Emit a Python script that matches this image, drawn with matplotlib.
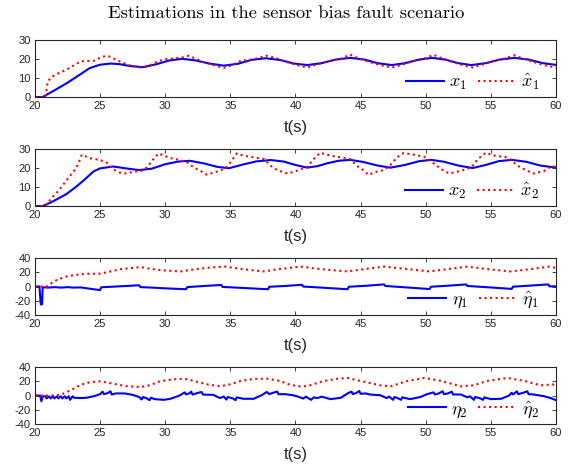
"""
Estimations in the sensor bias fault scenario.
Four stacked panels: states x1, x2 and biases eta1, eta2 with their estimates.
"""

import matplotlib
matplotlib.use("Agg")
import matplotlib.pyplot as plt

plt.rcParams["mathtext.fontset"] = "cm"
plt.rcParams["font.family"] = ["Liberation Sans", "DejaVu Sans"]
plt.rcParams["axes.unicode_minus"] = False

# --- x1 and its estimate ---
t_x1 = [20, 20.6, 21.5, 22.5, 23.5, 24.2, 25, 25.8, 26.5, 27.3, 28.3, 29.3, 30.3, 31.3,
        32.3, 33.4, 34.5, 35.6, 36.6, 37.7, 38.8, 39.9, 40.9, 42, 43.1, 44.2, 45.3, 46.3,
        47.4, 48.4, 49.5, 50.5, 51.5, 52.5, 53.5, 54.6, 55.7, 56.8, 57.9, 59, 60]
x1 = [0, 0, 3.5, 7.5, 12, 15.2, 17, 17.6, 17.3, 16.3, 15.7, 17.2, 19.2, 20.1,
      19.3, 17.6, 16.5, 17.5, 19.5, 20.4, 19.5, 17.6, 16.8, 17.8, 19.7, 20.6, 19.7, 17.8,
      16.8, 17.8, 19.7, 20.6, 19.7, 17.8, 16.8, 17.8, 19.7, 20.6, 19.7, 17.8, 16.9]

t_x1_hat = [20, 20.8, 21.0, 21.4, 21.9, 22.4, 22.9, 23.5, 24, 24.5, 25, 25.4, 25.8, 26.2,
            26.7, 27.2, 27.8, 28.3, 28.8, 29.4, 29.9, 30.6, 31.3, 31.8, 32.3, 32.9, 33.7,
            34.5, 35, 35.8, 36.8, 37.8, 38.6, 39.4, 40.3, 40.9, 41.5, 42.5, 43.5, 44.2,
            44.8, 45.6, 46.5, 47.4, 48, 49, 49.9, 50.6, 51.2, 52, 52.9, 53.6, 54.3, 55.2,
            56.1, 56.8, 57.4, 58.2, 59.1, 60]
x1_hat = [0, 0, 8.5, 11, 12.8, 14.3, 16.3, 18.7, 19, 19, 20.6, 21.6, 21.2, 19.6,
          18.2, 16.8, 15.9, 15.3, 16.6, 18.6, 19.8, 20.3, 20.8, 21.7, 20.3, 18.5, 16.8,
          15.3, 16.4, 19.0, 19.9, 21.7, 20.3, 18.2, 16.5, 15.5, 16.8, 18.8, 20.2, 22.3,
          20.4, 18.6, 16.8, 15.5, 16.6, 18.8, 20.2, 22.2, 20.5, 18.5, 16.6, 15.5, 16.9, 19,
          20.3, 22, 20.4, 18.6, 16.8, 15.4]

# --- x2 and its estimate ---
t_x2 = [20, 20.6, 21.2, 22.4, 23.1, 23.7, 24.5, 25, 26, 27, 28, 29, 30, 31, 31.9, 33, 34,
        34.9, 36, 37, 38.1, 39.1, 40, 40.9, 41.7, 42.5, 43.3, 44.2, 45.2, 46.3, 47.3,
        48.4, 49.5, 50.4, 51.4, 52.5, 53.6, 54.6, 55.6, 56.6, 57.7, 58.8, 60]
x2 = [0, 0, 1.8, 6.2, 9.8, 13.2, 18.2, 19.8, 20.8, 19.8, 18.9, 19.7, 22.0, 23.4, 23.8,
      22.4, 20.6, 19.9, 21.9, 23.5, 24.2, 23.4, 21.6, 20.2, 21, 22.6, 23.8, 24.3, 23.2,
      21.3, 20.2, 21.6, 23.6, 24.3, 23.3, 21.3, 20.0, 21.6, 23.6, 24.3, 23.3, 21.3, 20.2]

t_x2_hat = [20, 20.8, 21.3, 21.8, 22.2, 22.6, 23, 23.3, 23.6, 24.2, 25, 25.5, 26, 26.5,
            27.05, 27.6, 28.1, 28.6, 29.1, 29.5, 29.9, 30.4, 31.15, 31.7, 32.2, 32.7, 33.2,
            33.7, 34.2, 34.7, 35.1, 35.5, 36, 36.8, 37.6, 38.1, 38.6, 39.4, 40.1, 40.9,
            41.4, 41.9, 42.7, 43.5, 44.2, 44.7, 45.3, 45.6, 46.3, 46.8, 47.3, 47.8, 48.3,
            49.1, 49.9, 50.7, 51.2, 51.8, 52.7, 53.5, 54, 54.6, 55.3, 56.3, 57.05, 57.8,
            58.3, 59.1, 59.7, 60]
x2_hat = [0, 0, 4.4, 7.9, 11.5, 15, 18.5, 21.7, 27, 25.2, 24.2, 22.9, 19.4, 17.6,
          17.1, 18.2, 18.2, 20.3, 24.7, 27.7, 26.5, 25.2, 24.2, 22.9, 20.3, 18.5, 16.5,
          17.6, 18.5, 20.3, 23.8, 27.7, 26.5, 25.6, 24.7, 21.2, 18.9, 17.1, 18.5, 20.6,
          24.7, 28, 26.5, 25.6, 24.7, 21.2, 18.5, 16.4, 18.2, 18.9, 21.7, 25.6, 27.9,
          27, 25.9, 22, 19.4, 17.1, 18.5, 20.3, 24.7, 28, 26.5, 25.6, 21.2, 18.5,
          17.1, 18.5, 21.2, 20.3]

# --- eta1 and its estimate ---
t_eta1 = [20, 20.35, 20.45, 20.55, 20.6, 21, 21.5, 22, 22.5, 23, 23.5, 24, 25, 25.1, 26,
          27, 28, 28.1, 29, 30, 31.6, 31.7, 33, 34.3, 34.4, 36, 37.9, 38, 39.2, 40.5,
          40.6, 42, 44, 44.1, 45.5, 46.8, 46.9, 48.5, 50.3, 50.4, 51.8, 53.1, 53.2, 55,
          56.6, 56.7, 58, 59.4, 59.5, 60]
eta1 = [0, 0, -25, -25, -1, -1.5, -0.8, -1.5, -0.8, -1.5, -1.2, -2.5, -5, -1, -0.2,
        0.8, 1.8, -0.8, -1.5, -2.5, -3.8, -0.8, 0.8, 2.2, -0.5, -2, -3.8, -0.3, 0.8, 2.5,
        0, -1.5, -3.8, -0.3, 1.2, 3, 0.8, -1.2, -3.5, -0.3, 1.3, 3, 0.8, -1.3,
        -3.3, -0.2, 1.3, 3, 0.3, 0.3]

t_eta1_hat = [20, 20.9, 21.2, 21.7, 22.4, 23.2, 24, 25, 25.8, 26.6, 27.4, 28.1, 28.8,
              29.9, 31.2, 32.2, 33.5, 34.6, 35.8, 36.8, 37.6, 38.6, 39.4, 40.4, 41.9, 44,
              45.3, 46.8, 48.6, 50.3, 51.7, 53.2, 54.7, 56.5, 58.1, 59.5, 60]
eta1_hat = [0, 0, 4, 9.4, 14, 16.5, 17.9, 18, 21.2, 24.5, 25.9, 27.3, 25,
            22.6, 21.2, 24, 26.8, 28, 24.8, 22.6, 21.2, 24.2, 25.8, 28, 24.5, 21.2,
            24.5, 28, 24.5, 21.2, 24.5, 28, 24.5, 21.2, 24.5, 28, 26]

# --- eta2 and its estimate ---
t_eta2 = [20, 20.4, 20.5, 20.6, 20.8, 20.9, 21.1, 21.2, 21.4, 21.5, 21.7, 21.8, 22.0,
          22.1, 22.3, 22.4, 22.6, 22.7, 22.9, 23.0, 23.5, 24, 24.6, 25.0, 25.2, 25.3,
          25.6, 25.8, 25.9, 26.2, 26.9, 27.5, 28, 28.2, 28.3, 28.6, 28.8, 28.9, 29.2,
          29.9, 30.4, 31.1, 31.5, 31.6, 31.9, 32.0, 32.1, 32.6, 32.8, 32.9, 33.7, 34.2,
          34.5, 34.7, 34.8, 35.2, 35.4, 35.5, 36, 36.8, 37.4, 37.8, 38.0, 38.2, 38.6,
          38.7, 39.2, 39.8, 40.1, 40.6, 40.8, 41.2, 41.4, 41.7, 42, 42.7, 43.5, 44, 44.3,
          44.4, 44.7, 44.9, 45, 45.4, 45.7, 46.5, 47, 47.2, 47.5, 47.6, 47.9, 48.1, 48.2,
          48.8, 49.6, 50.1, 50.6, 50.7, 51, 51.3, 51.4, 51.7, 52, 52.1, 52.7, 53.2, 53.4,
          53.7, 53.8, 54.2, 54.4, 54.5, 55, 55.8, 56.4, 56.6, 56.7, 57, 57.1, 57.5,
          57.8, 57.9, 58.3, 59.1, 59.6, 60]
eta2 = [0, 0, -8, -1, -1, -4, -1, -4, -1, -4, -1, -4, -1,
        -4, -1, -4, -1, -6, -1, -3, -3.5, -3, -0.5, 2, 5.5, 2,
        3.5, 6, 1.5, 3, 3, 1, -2, -5.5, -2, -4, -6.5, -3, -5,
        -6, -4.5, 0, 4.5, 1.5, 3.5, 5.5, 1.5, 4.2, 5, 1.4, 1, -3.5,
        -1.4, -5.6, -2, -4, -6.5, -2.5, -4.5, -4.5, 0.5, 5, 2, 3.5, 5.6,
        1.9, 2, 0.5, -0.9, -4.2, -1.5, -6, -2.5, -3.5, -1.5, -5, -3, 3, 5.5,
        2, 4, 6.5, 2.5, 3, 1.5, 0.5, -3.5, -1.5, -6, -2, -4, -6, -2.5,
        -5, -2, 2, 4.5, 1.5, 3, 6, 2, 3, 5.5, 1.5, 1.5, -2.5, -1,
        -6, -2, -4, -6, -2.5, -5, -4.5, 0, 4, 1.5, 6, 2, 4,
        6, 2, 1.5, -1, -3.5, -6.5]

t_eta2_hat = [20, 21, 21.7, 22.2, 23, 23.5, 24.2, 25, 26, 27, 28.1, 28.8, 29.6, 30.6,
              31.5, 32.2, 33.2, 34.2, 35, 35.8, 36.8, 37.8, 38.8, 39.6, 40.3, 40.9, 42.2,
              43.2, 44, 45, 46.5, 47.3, 48.6, 49.9, 51.2, 52.7, 53.7, 54.7, 56.3, 57.6,
              58.8, 60]
eta2_hat = [0, 0, 0.5, 2.8, 9.8, 15, 18.6, 20, 16.7, 13.2, 12, 14.4, 20, 22.8,
            23.7, 20.5, 15.8, 13, 15.8, 20.5, 23.3, 23.7, 20.5, 15, 13, 13.2, 20.5,
            23.5, 24.7, 20.5, 14.4, 13, 20.5, 24.7, 20.5, 13, 14.4, 20.5, 24.7, 20.5,
            14.4, 15.8]

panels = [
    (t_x1, x1, t_x1_hat, x1_hat, r"$x_1$", r"$\hat{x}_1$", (0, 30), [0, 10, 20, 30]),
    (t_x2, x2, t_x2_hat, x2_hat, r"$x_2$", r"$\hat{x}_2$", (0, 30), [0, 10, 20, 30]),
    (t_eta1, eta1, t_eta1_hat, eta1_hat, r"$\eta_1$", r"$\hat{\eta}_1$", (-40, 40),
     [-40, -20, 0, 20, 40]),
    (t_eta2, eta2, t_eta2_hat, eta2_hat, r"$\eta_2$", r"$\hat{\eta}_2$", (-40, 40),
     [-40, -20, 0, 20, 40]),
]

fig, axes = plt.subplots(4, 1, figsize=(5.72, 4.65), dpi=100)
fig.subplots_adjust(left=0.061, right=0.972, top=0.914, bottom=0.088, hspace=0.912)

for ax, (tt, yy, th, yh, lab, lab_hat, ylim, yticks) in zip(axes, panels):
    ax.plot(tt, yy, color="#0000ff", lw=1.5, label=lab)
    ax.plot(th, yh, color="#ff0000", lw=1.5, ls=":", label=lab_hat)
    ax.set_xlim(20, 60)
    ax.set_ylim(*ylim)
    ax.set_xticks([20, 25, 30, 35, 40, 45, 50, 55, 60])
    ax.set_yticks(yticks)
    ax.tick_params(direction="in", top=True, right=True, length=3, width=0.6,
                   color="0.15", labelcolor="0.15", labelsize=8, pad=3)
    for sp in ax.spines.values():
        sp.set_color("0.15")
        sp.set_linewidth(0.8)
    ax.set_xlabel("t(s)", fontsize=12, color="0.15", labelpad=6)
    # legend sits in the lower right, no frame, like the original figure
    ax.legend(loc="lower right", bbox_to_anchor=(0.968, 0.08), ncol=2, fontsize=13,
              frameon=False, handlelength=2.1, columnspacing=0.6, handletextpad=0.3,
              borderpad=0.0, borderaxespad=0.0)

fig.suptitle("Estimations in the sensor bias fault scenario", family="cmr10",
             fontsize=13.3, y=0.988)

fig.savefig("out.png", dpi=100)
plt.close(fig)
